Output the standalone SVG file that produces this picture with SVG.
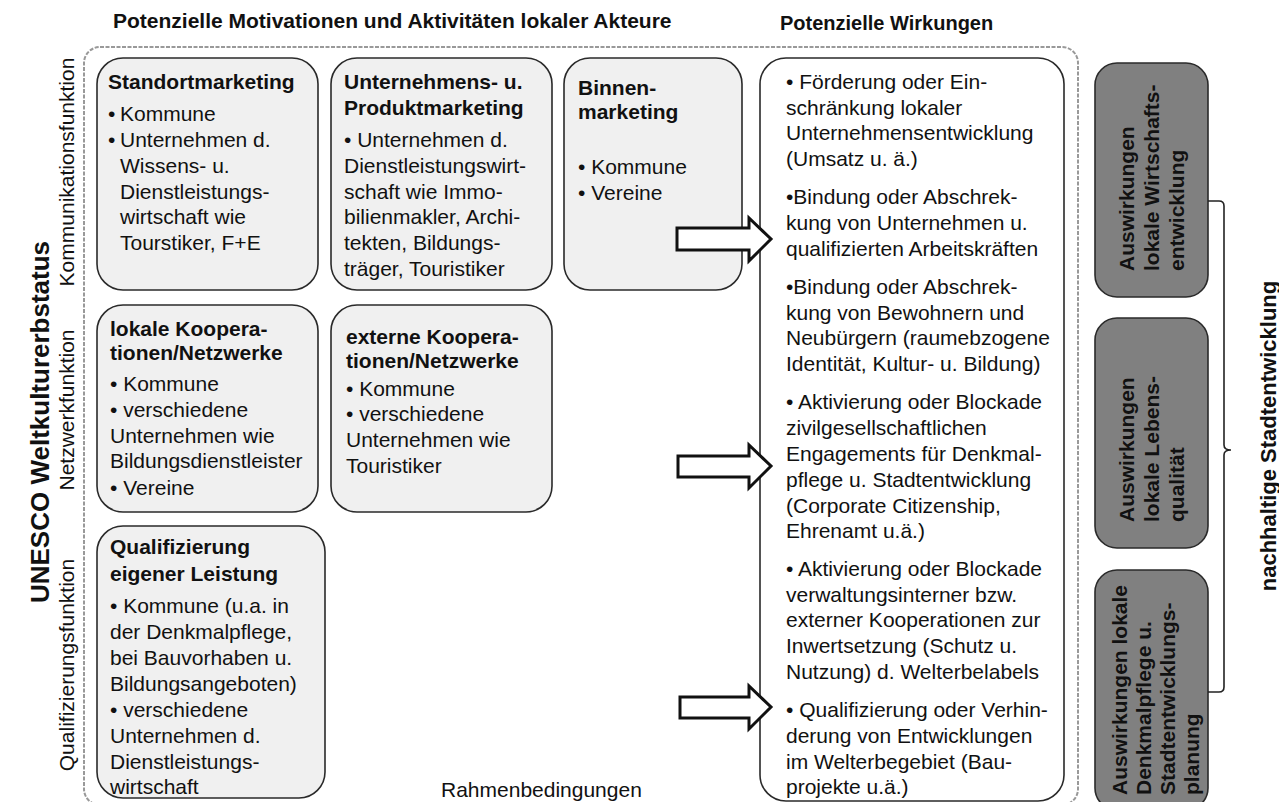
<svg xmlns="http://www.w3.org/2000/svg" width="1279" height="802" viewBox="0 0 1279 802">
<style>
text{font-family:"Liberation Sans",Arial,sans-serif;fill:#111;}
.t{font-size:21px;}
.b{font-size:21px;font-weight:bold;}
.vb{font-size:26px;font-weight:bold;}
.box{fill:#f0f0f0;stroke:#2a2a2a;stroke-width:1.6;}
.wbox{fill:#fff;stroke:#2a2a2a;stroke-width:1.6;}
.gbox{fill:#808080;stroke:#2a2a2a;stroke-width:1.6;}
.frame{fill:none;stroke:#999;stroke-width:2;stroke-dasharray:4 1.5;}
.arrow{fill:#fff;stroke:#111;stroke-width:3;stroke-linejoin:miter;}
.brace{fill:none;stroke:#222;stroke-width:1.6;}
</style>

<g id="titles">
<text class="b" x="113" y="28">Potenzielle Motivationen und Aktivitäten lokaler Akteure</text>
<text class="b" x="780" y="30" style="font-size:20px">Potenzielle Wirkungen</text>
<text class="t" x="441" y="797">Rahmenbedingungen</text>
</g>

<g id="side-labels">
<text class="vb" transform="translate(49,422) rotate(-90)" text-anchor="middle">UNESCO Weltkulturerbstatus</text>
<text class="t" transform="translate(74,172) rotate(-90)" text-anchor="middle">Kommunikationsfunktion</text>
<text class="t" transform="translate(74,410) rotate(-90)" text-anchor="middle">Netzwerkfunktion</text>
<text class="t" transform="translate(74,665) rotate(-90)" text-anchor="middle">Qualifizierungsfunktion</text>
</g>

<rect id="frame" class="frame" x="84" y="47" width="994" height="758" rx="16"/>

<g id="standortmarketing">
<rect class="box" x="97" y="58" width="221" height="232" rx="26"/>
<text class="b" x="108" y="89">Standortmarketing</text>
<text class="t" x="108" y="121">•</text><text class="t" x="120" y="121">Kommune</text>
<text class="t" x="108" y="147">•</text><text class="t" x="120" y="147">Unternehmen  d.</text>
<text class="t" x="120" y="173">Wissens- u.</text>
<text class="t" x="120" y="199">Dienstleistungs-</text>
<text class="t" x="120" y="224">wirtschaft wie</text>
<text class="t" x="120" y="250">Tourstiker, F+E</text>
</g>

<g id="produktmarketing">
<rect class="box" x="331" y="58" width="221" height="232" rx="26"/>
<text class="b" x="344" y="89">Unternehmens- u.</text>
<text class="b" x="344" y="115">Produktmarketing</text>
<text class="t" x="344" y="147">• Unternehmen d.</text>
<text class="t" x="344" y="173">Dienstleistungswirt-</text>
<text class="t" x="344" y="199">schaft wie Immo-</text>
<text class="t" x="344" y="224">bilienmakler, Archi-</text>
<text class="t" x="344" y="250">tekten, Bildungs-</text>
<text class="t" x="344" y="276">träger, Touristiker</text>
</g>

<g id="binnenmarketing">
<rect class="box" x="564" y="58" width="178" height="232" rx="26"/>
<text class="b" x="578" y="95">Binnen-</text>
<text class="b" x="578" y="119">marketing</text>
<text class="t" x="578" y="174">• Kommune</text>
<text class="t" x="578" y="200">• Vereine</text>
</g>

<g id="lokale-kooperationen">
<rect class="box" x="97" y="305" width="221" height="207" rx="26"/>
<text class="b" x="110" y="336">lokale Koopera-</text>
<text class="b" x="110" y="360">tionen/Netzwerke</text>
<text class="t" x="110" y="391">• Kommune</text>
<text class="t" x="110" y="417">• verschiedene</text>
<text class="t" x="110" y="443">Unternehmen wie</text>
<text class="t" x="110" y="468">Bildungsdienstleister</text>
<text class="t" x="110" y="495">• Vereine</text>
</g>

<g id="externe-kooperationen">
<rect class="box" x="331" y="305" width="221" height="207" rx="26"/>
<text class="b" x="346" y="344">externe Koopera-</text>
<text class="b" x="346" y="368">tionen/Netzwerke</text>
<text class="t" x="346" y="396">• Kommune</text>
<text class="t" x="346" y="421">• verschiedene</text>
<text class="t" x="346" y="447">Unternehmen wie</text>
<text class="t" x="346" y="473">Touristiker</text>
</g>

<g id="qualifizierung">
<rect class="box" x="97" y="526" width="228" height="272" rx="26"/>
<text class="b" x="110" y="554">Qualifizierung</text>
<text class="b" x="110" y="581">eigener Leistung</text>
<text class="t" x="110" y="613">• Kommune (u.a. in</text>
<text class="t" x="110" y="639">der Denkmalpflege,</text>
<text class="t" x="110" y="665">bei Bauvorhaben u.</text>
<text class="t" x="110" y="691">Bildungsangeboten)</text>
<text class="t" x="110" y="717">• verschiedene</text>
<text class="t" x="110" y="743">Unternehmen d.</text>
<text class="t" x="110" y="769">Dienstleistungs-</text>
<text class="t" x="110" y="794">wirtschaft</text>
</g>

<g id="wirkungen">
<rect class="wbox" x="760" y="58" width="304" height="743" rx="26"/>
<text class="t" x="786" y="89">• Förderung oder Ein-</text>
<text class="t" x="786" y="115">schränkung lokaler</text>
<text class="t" x="786" y="140">Unternehmensentwicklung</text>
<text class="t" x="786" y="166">(Umsatz u. ä.)</text>
<text class="t" x="786" y="204">•Bindung oder Abschrek-</text>
<text class="t" x="786" y="230">kung von Unternehmen u.</text>
<text class="t" x="786" y="256">qualifizierten Arbeitskräften</text>
<text class="t" x="786" y="294">•Bindung oder Abschrek-</text>
<text class="t" x="786" y="320">kung von Bewohnern und</text>
<text class="t" x="786" y="345">Neubürgern (raumebzogene</text>
<text class="t" x="786" y="371">Identität, Kultur- u. Bildung)</text>
<text class="t" x="786" y="409">• Aktivierung oder Blockade</text>
<text class="t" x="786" y="435">zivilgesellschaftlichen</text>
<text class="t" x="786" y="461">Engagements für Denkmal-</text>
<text class="t" x="786" y="487">pflege u. Stadtentwicklung</text>
<text class="t" x="786" y="513">(Corporate Citizenship,</text>
<text class="t" x="786" y="538">Ehrenamt u.ä.)</text>
<text class="t" x="786" y="576">• Aktivierung oder Blockade</text>
<text class="t" x="786" y="602">verwaltungsinterner bzw.</text>
<text class="t" x="786" y="627">externer Kooperationen zur</text>
<text class="t" x="786" y="653">Inwertsetzung (Schutz u.</text>
<text class="t" x="786" y="679">Nutzung) d. Welterbelabels</text>
<text class="t" x="786" y="717">• Qualifizierung oder Verhin-</text>
<text class="t" x="786" y="743">derung von Entwicklungen</text>
<text class="t" x="786" y="769">im Welterbegebiet (Bau-</text>
<text class="t" x="786" y="794">projekte u.ä.)</text>
</g>

<g id="auswirkungen-wirtschaft">
<rect class="gbox" x="1095" y="63" width="113" height="234" rx="22"/>
<text class="b" transform="translate(1134,271) rotate(-90)">Auswirkungen</text>
<text class="b" transform="translate(1159,271) rotate(-90)">lokale Wirtschafts-</text>
<text class="b" transform="translate(1184,271) rotate(-90)">entwicklung</text>
</g>

<g id="auswirkungen-lebensqualitaet">
<rect class="gbox" x="1095" y="318" width="113" height="230" rx="22"/>
<text class="b" transform="translate(1134,522) rotate(-90)">Auswirkungen</text>
<text class="b" transform="translate(1159,522) rotate(-90)">lokale Lebens-</text>
<text class="b" transform="translate(1184,522) rotate(-90)">qualität</text>
</g>

<g id="auswirkungen-denkmalpflege">
<rect class="gbox" x="1095" y="570" width="113" height="240" rx="22"/>
<text class="b" transform="translate(1127,795) rotate(-90)">Auswirkungen lokale</text>
<text class="b" transform="translate(1151,795) rotate(-90)">Denkmalpflege  u.</text>
<text class="b" transform="translate(1175,795) rotate(-90)">Stadtentwicklungs-</text>
<text class="b" transform="translate(1199,795) rotate(-90)">planung</text>
</g>

<g id="nachhaltige-stadtentwicklung">
<text class="b" transform="translate(1276,436) rotate(-90)" text-anchor="middle" style="font-size:22px">nachhaltige Stadtentwicklung</text>
</g>

<g id="connectors">
<path class="arrow" d="M677,228 H749 V218 L771,239 L749,261 V250 H677 Z"/>
<path class="arrow" d="M678,456 H749 V445 L771,466 L749,488 V477 H678 Z"/>
<path class="arrow" d="M680,697 H749 V686 L771,707 L749,729 V718 H680 Z"/>
<path class="brace" d="M1208,201 H1219 Q1224,201 1224,206 V445 Q1224,450 1231,450 Q1224,450 1224,455 V687 Q1224,692 1219,692 H1208"/>
</g>
</svg>
